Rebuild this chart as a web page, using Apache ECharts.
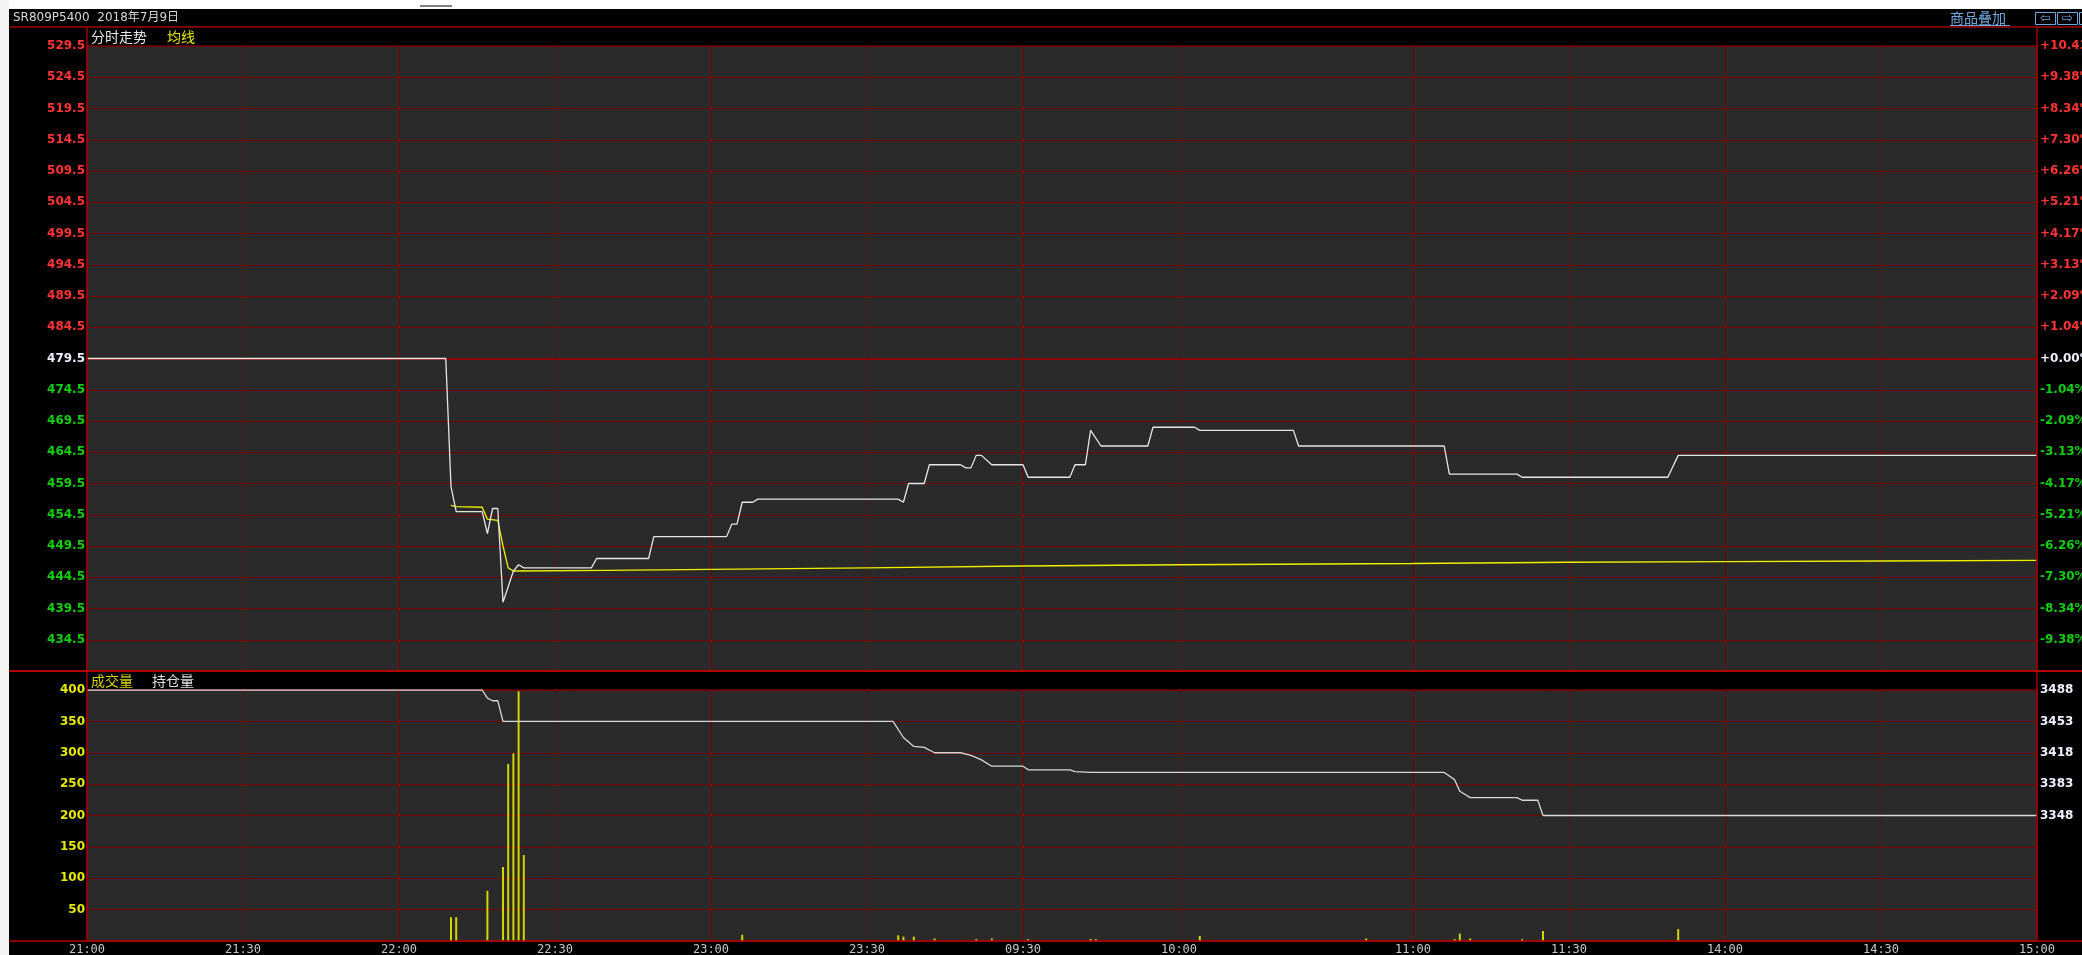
<!DOCTYPE html>
<html><head><meta charset="utf-8">
<script src="https://cdn.jsdelivr.net/npm/echarts@6/dist/echarts.min.js"></script>
<style>html,body{margin:0;padding:0;background:#000;overflow:hidden}#c{width:2082px;height:955px}</style>
</head><body><div id="c"></div>
<script>
// ---------- data ----------
const titleText = 'SR809P5400  2018年7月9日';
const preClose = 479.5;
const sessions = [['21:00','23:30'],['09:00','10:15'],['10:30','11:30'],['13:30','15:00']];
const timeTickLabels = ['21:00','21:30','22:00','22:30','23:00','23:30','09:30','10:00','11:00','11:30','14:00','14:30','15:00'];
const solidTimeLines = ['22:00','23:00','09:30','11:00','14:00'];
const dottedTimeLines = ['21:30','22:30','23:30','10:00','11:30','14:30'];
const priceMin = 429.5, priceMax = 529.5;
const priceTicks = [529.5,524.5,519.5,514.5,509.5,504.5,499.5,494.5,489.5,484.5,479.5,474.5,469.5,464.5,459.5,454.5,449.5,444.5,439.5,434.5];
const volMin = 0, volMax = 400, volInterval = 50;
const oiMin = 3208, oiMax = 3488;
const oiTicks = [3488,3453,3418,3383,3348];

// [minute index, value]
const pricePts = [[0,479.5],[69,479.5],[70,459.0],[71,455.0],[76,455.0],[77,451.5],[78,455.5],[79,455.5],[80,440.5],[82,445.5],[83,446.5],[84,446.0],[97,446.0],[98,447.5],[108,447.5],[109,451.0],[123,451.0],[124,453.0],[125,453.0],[126,456.5],[128,456.5],[129,457.0],[156,457.0],[157,456.5],[158,459.5],[161,459.5],[162,462.5],[168,462.5],[169,462.0],[170,462.0],[171,464.0],[172,464.0],[174,462.5],[180,462.5],[181,460.5],[189,460.5],[190,462.5],[192,462.5],[193,468.0],[195,465.5],[204,465.5],[205,468.5],[213,468.5],[214,468.0],[232,468.0],[233,465.5],[261,465.5],[262,461.0],[275,461.0],[276,460.5],[304,460.5],[306,464.0],[375,464.0]];
const avgPts = [[70,456.0],[71,455.8],[76,455.7],[77,453.8],[79,453.6],[80,449.5],[81,446.0],[82,445.5],[100,445.6],[125,445.8],[150,446.0],[180,446.3],[210,446.5],[255,446.7],[285,446.9],[315,447.0],[345,447.1],[375,447.2]];
const volPts = [[70,38],[71,38],[77,80],[80,118],[81,282],[82,299],[83,398],[84,137],[126,10],[156,9],[157,7],[159,7],[163,4],[171,3],[174,4],[181,3],[193,3],[194,3],[214,8],[246,4],[263,3],[264,12],[266,4],[276,3],[280,16],[306,19]];
const oiPts = [[0,3488],[76,3488],[77,3479],[78,3476],[79,3476],[80,3453],[155,3453],[157,3435],[159,3425],[161,3424],[163,3418],[168,3418],[170,3415],[172,3410],[174,3403],[180,3403],[181,3399],[189,3399],[190,3397],[193,3396],[261,3396],[263,3388],[264,3375],[266,3368],[275,3368],[276,3365],[279,3365],[280,3348],[375,3348]];

// ---------- build minute categories from sessions ----------
function pad(n){return (n<10?'0':'')+n;}
function buildMinutes(){
  const out=[];
  sessions.forEach((s,k)=>{
    let [h,m]=s[0].split(':').map(Number);
    const [eh,em]=s[1].split(':').map(Number);
    if(k===0) out.push(pad(h)+':'+pad(m));
    while(h!==eh||m!==em){ m++; if(m===60){m=0;h=(h+1)%24;} out.push(pad(h)+':'+pad(m)); }
  });
  return out;
}
const minutes = buildMinutes();

// ---------- style ----------
const GRID_BG = '#2a2a2a', GRID_LINE = '#7a0000', BORDER = '#a00000';
const RED = '#ff3434', GREEN = '#10d010', WHITE = '#eef0ff', YELLOW = '#e8e800';
const CJK = '"Noto Sans CJK SC", "DejaVu Sans", sans-serif';
const MIX = '"DejaVu Sans", "Noto Sans CJK SC", sans-serif';

function xAx(grid, lines, dashed, showLabel, pos){
  return {
    type:'category', gridIndex:grid, data:minutes, boundaryGap:false, position:pos,
    axisLine:{show:false}, axisTick:{show:false},
    axisLabel:{show:showLabel, interval:(i,v)=>timeTickLabels.indexOf(v)>=0, color:'#c8c8c8',
      fontFamily:'"DejaVu Sans Mono", monospace', fontSize:12, margin:3},
    splitLine:{show:true, interval:(i,v)=>lines.indexOf(v)>=0,
      lineStyle:{color:GRID_LINE, width:1, type: dashed ? [2,2] : 'solid'}}
  };
}
function priceColor(v){ v=parseFloat(v); return v>preClose+1e-9?RED:(v<preClose-1e-9?GREEN:WHITE); }
const LBL = {fontFamily:'"DejaVu Sans", sans-serif', fontWeight:'bold', fontSize:12, padding:[4,0,0,0]};

const option = {
  animation:false,
  backgroundColor:'#000',
  grid:[
    {left:87, right:45, top:46, height:625, outerBoundsMode:'none', containLabel:false, show:true, backgroundColor:GRID_BG, borderColor:BORDER, borderWidth:1},
    {left:87, right:45, top:690, height:251, outerBoundsMode:'none', containLabel:false, show:true, backgroundColor:GRID_BG, borderColor:BORDER, borderWidth:1}
  ],
  xAxis:[
    xAx(0, solidTimeLines, false, false, 'bottom'),
    xAx(0, dottedTimeLines, true, false, 'top'),
    xAx(1, solidTimeLines, false, true, 'bottom'),
    xAx(1, dottedTimeLines, true, false, 'top')
  ],
  yAxis:[
    {type:'value', gridIndex:0, position:'left', min:priceMin, max:priceMax,
      axisLine:{show:false}, axisTick:{show:false, customValues:priceTicks},
      axisLabel:Object.assign({customValues:priceTicks, formatter:v=>Number(v).toFixed(1), color:priceColor, margin:2}, LBL),
      splitLine:{show:true, lineStyle:{color:GRID_LINE, width:1}}},
    {type:'value', gridIndex:0, position:'right', min:priceMin, max:priceMax,
      axisLine:{show:false}, axisTick:{show:false, customValues:[preClose]},
      axisLabel:Object.assign({customValues:priceTicks, color:priceColor, margin:3,
        formatter:v=>{const p=(v-preClose)/preClose*100; return (p>=0?'+':'-')+Math.abs(p).toFixed(2)+'%';}}, LBL),
      splitLine:{show:true, lineStyle:{color:'#8c0000', width:2}}},
    {type:'value', gridIndex:1, position:'left', min:volMin, max:volMax, interval:volInterval,
      axisLine:{show:false}, axisTick:{show:false},
      axisLabel:Object.assign({formatter:v=>v===0?'':String(v), color:YELLOW, margin:2}, LBL),
      splitLine:{show:true, lineStyle:{color:GRID_LINE, width:1}}},
    {type:'value', gridIndex:1, position:'right', min:oiMin, max:oiMax,
      axisLine:{show:false}, axisTick:{show:false},
      axisLabel:Object.assign({customValues:oiTicks, formatter:v=>String(v), color:WHITE, margin:3}, LBL),
      splitLine:{show:false}}
  ],
  series:[
    {name:'均线', type:'line', xAxisIndex:0, yAxisIndex:0, data:avgPts, symbol:'none', z:3,
      lineStyle:{color:'#f0f000', width:1.3}},
    {name:'分时走势', type:'line', xAxisIndex:0, yAxisIndex:0, data:pricePts, symbol:'none', z:4,
      lineStyle:{color:'#e6e6e6', width:1.3}},
    {name:'成交量', type:'bar', xAxisIndex:2, yAxisIndex:2, data:volPts, barWidth:2, z:3,
      itemStyle:{color:'#d4d400'}},
    {name:'持仓量', type:'line', xAxisIndex:2, yAxisIndex:3, data:oiPts, symbol:'none', z:4,
      lineStyle:{color:'#d8d8d8', width:1.3}}
  ],
  graphic:[
    {type:'rect', z:50, shape:{x:0,y:0,width:2082,height:9}, style:{fill:'#ffffff'}},
    {type:'rect', z:50, shape:{x:0,y:0,width:9,height:955}, style:{fill:'#f4f4f4'}},
    {type:'rect', z:51, shape:{x:420,y:5,width:32,height:2}, style:{fill:'#808080'}},
    {type:'line', z:50, shape:{x1:9,y1:27,x2:2082,y2:27}, style:{stroke:'#a00000', lineWidth:1.5}},
    {type:'line', z:50, shape:{x1:9,y1:671,x2:2082,y2:671}, style:{stroke:'#b40000', lineWidth:2}},
    {type:'line', z:50, shape:{x1:9,y1:941,x2:2082,y2:941}, style:{stroke:'#b40000', lineWidth:1.5}},
    {type:'line', z:50, shape:{x1:87,y1:27,x2:87,y2:941}, style:{stroke:'#a00000', lineWidth:1.5}},
    {type:'line', z:50, shape:{x1:2037,y1:27,x2:2037,y2:941}, style:{stroke:'#a00000', lineWidth:1.5}},
    {type:'text', z:52, style:{x:13, y:18, text:titleText, fill:'#d8d8d8', font:'12px '+MIX, verticalAlign:'middle'}},
    {type:'text', z:52, style:{x:91, y:37, text:'分时走势', fill:'#e8e8e8', font:'14px '+CJK, verticalAlign:'middle'}},
    {type:'text', z:52, style:{x:167, y:37, text:'均线', fill:'#e8e800', font:'14px '+CJK, verticalAlign:'middle'}},
    {type:'text', z:52, style:{x:91, y:681, text:'成交量', fill:'#d4d400', font:'14px '+CJK, verticalAlign:'middle'}},
    {type:'text', z:52, style:{x:152, y:681, text:'持仓量', fill:'#e0e0e0', font:'14px '+CJK, verticalAlign:'middle'}},
    {type:'text', z:52, style:{x:1950, y:18, text:'商品叠加', fill:'#6fa8e0', font:'14px '+CJK, verticalAlign:'middle'}},
    {type:'line', z:52, shape:{x1:1950,y1:25.5,x2:2010,y2:25.5}, style:{stroke:'#6fa8e0', lineWidth:1}},
    {type:'rect', z:52, shape:{x:2035.5,y:12.5,width:20,height:12}, style:{fill:'#000', stroke:'#6fa8e0', lineWidth:1}},
    {type:'rect', z:52, shape:{x:2057.5,y:12.5,width:20,height:12}, style:{fill:'#000', stroke:'#6fa8e0', lineWidth:1}},
    {type:'rect', z:52, shape:{x:2079.5,y:12.5,width:20,height:12}, style:{fill:'#000', stroke:'#6fa8e0', lineWidth:1}},
    {type:'text', z:53, style:{x:2045.5, y:18.5, text:'⇦', fill:'#6fa8e0', font:'13px "DejaVu Sans"', align:'center', verticalAlign:'middle'}},
    {type:'text', z:53, style:{x:2067.5, y:18.5, text:'⇨', fill:'#6fa8e0', font:'13px "DejaVu Sans"', align:'center', verticalAlign:'middle'}}
  ]
};
const chart = echarts.init(document.getElementById('c'), null, {renderer:'canvas', width:2082, height:955});
chart.setOption(option);
</script>
</body></html>
